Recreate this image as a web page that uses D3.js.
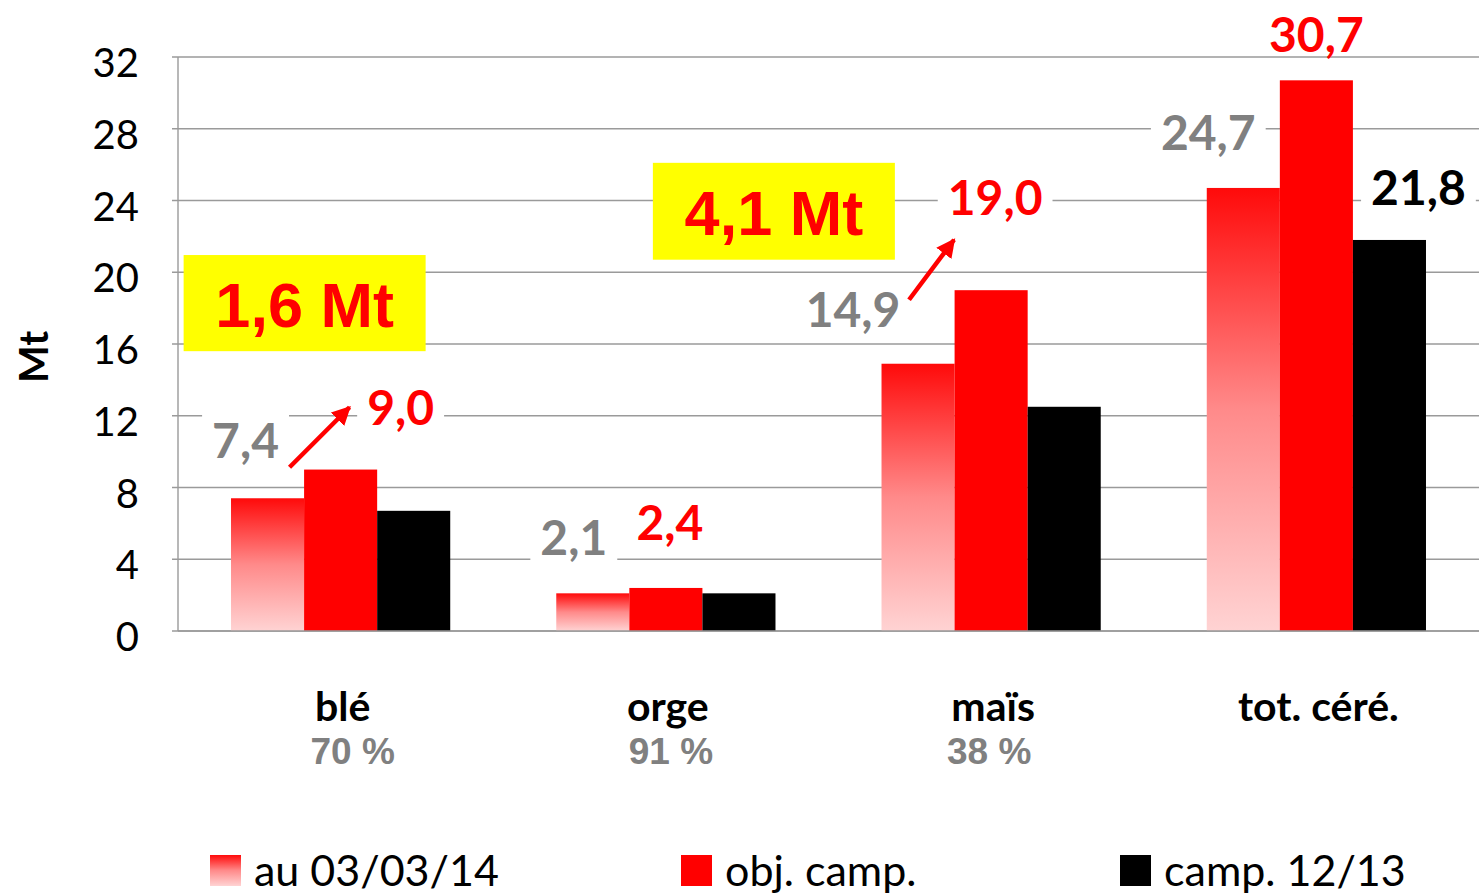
<!DOCTYPE html>
<html><head><meta charset="utf-8">
<script src="https://cdn.jsdelivr.net/npm/d3@7"></script>
<style>
html,body{margin:0;padding:0;background:#fff;}
svg{display:block;}
</style></head>
<body>
<svg id="chart" width="1479" height="894"></svg>
<script>
// ---- data ----
const categories = ["blé", "orge", "maïs", "tot. céré."];
const shares = ["70 %", "91 %", "38 %", ""];
const seriesNames = ["au 03/03/14", "obj. camp.", "camp. 12/13"];
const au030314 = [7.4, 2.1, 14.9, 24.7];
const objCamp = [9.0, 2.4, 19.0, 30.7];
const camp1213 = [6.7, 2.1, 12.5, 21.8];
const yTicks = [0, 4, 8, 12, 16, 20, 24, 28, 32];
const labelText = [["7,4","9,0",null],["2,1","2,4",null],["14,9","19,0",null],["24,7","30,7","21,8"]];
const annotations = [{cat:0, text:"1,6 Mt"}, {cat:1, text:"4,1 Mt"}];

// ---- layout / style ----
const W = 1479, H = 894;
const plot = {left:178, right:1479, top:57, bottom:631};
const svg = d3.select("#chart");
const FONT = "Lato, 'Open Sans', sans-serif";
const ARIAL = "'Liberation Sans', Arial, sans-serif";

const x0 = d3.scaleBand().domain(categories).range([plot.left, plot.right]).padding(0);
const gw = x0.bandwidth();
const x1 = d3.scaleBand().domain([0,1,2]).range([gw*0.163, gw*0.837]).padding(0);
const y = d3.scaleLinear().domain([0,32]).range([plot.bottom, plot.top]);

const series = [au030314, objCamp, camp1213];
const fills = ["url(#grad)", "#ff0000", "#000000"];
const labelColors = ["#808080", "#ff0000", "#000000"];

// label offsets relative to (bar centre, bar top): [dx, dy]
const labelOffsets = [
  [[-22,-40],[60,-45],null],
  [[-19,-38],[4,-48],null],
  [[-65,-37],[4,-75],null],
  [[-35,-38],[0,-28],[29,-35]]
];
const labelBox = [[true,true],[true,false],[true,true],[true,false,true]];
// arrows relative to series-0 bar (centre, top): [x1,y1,x2,y2]
const arrows = [{cat:0, p:[22,-31,82,-91]}, {cat:2, p:[-9,-64,36,-124]}];
// yellow annotation boxes: dx from band centre, value range
const annoPos = [{dx:-36, w:242, vTop:20.96, vBot:15.6}, {dx:108, w:242, vTop:26.1, vBot:20.7}];
const shareDx = [12, 5, -2, 0];

const defs = svg.append("defs");
function addGrad(id){
  const g = defs.append("linearGradient").attr("id",id).attr("x1",0).attr("y1",0).attr("x2",0).attr("y2",1);
  g.append("stop").attr("offset","0%").attr("stop-color","#ff0a0a");
  g.append("stop").attr("offset","50%").attr("stop-color","#ff8a8a");
  g.append("stop").attr("offset","100%").attr("stop-color","#ffd3d3");
}
addGrad("grad"); addGrad("gradL");
defs.append("marker").attr("id","arrow").attr("viewBox","0 0 10 10").attr("refX",9).attr("refY",5)
  .attr("markerWidth",4.2).attr("markerHeight",4.2).attr("markerUnits","strokeWidth").attr("orient","auto")
  .append("path").attr("d","M0,0 L10,5 L0,10 z").attr("fill","#ff0000");

// gridlines
svg.append("g").selectAll("line").data(yTicks).join("line")
  .attr("x1", plot.left-6).attr("x2", plot.right)
  .attr("y1", d=>y(d)).attr("y2", d=>y(d))
  .attr("stroke", "#9a9a9a").attr("stroke-width", 1.4);
// left axis line
svg.append("line").attr("x1",plot.left).attr("x2",plot.left).attr("y1",y(32)).attr("y2",y(0))
  .attr("stroke","#9a9a9a").attr("stroke-width",1.4);

// tick labels
svg.append("g").selectAll("text").data(yTicks).join("text")
  .attr("x", 139).attr("y", d=>y(d)+20)
  .attr("text-anchor","end").attr("font-family",FONT).attr("font-size",40).attr("fill","#000")
  .text(d=>d);

// y title
svg.append("text").attr("transform","translate(48,357) rotate(-90)")
  .attr("text-anchor","middle").attr("font-family",FONT).attr("font-weight",700).attr("font-size",40)
  .text("Mt");

// yellow annotation boxes
annotations.forEach((a,i)=>{
  const p = annoPos[i];
  const cx = x0(categories[a.cat]) + gw/2 + p.dx;
  const yt = y(p.vTop), yb = y(p.vBot);
  svg.append("rect").attr("x",cx-p.w/2).attr("y",yt).attr("width",p.w).attr("height",yb-yt).attr("fill","#ffff00");
  svg.append("text").attr("x",cx).attr("y",(yt+yb)/2+24).attr("text-anchor","middle")
    .attr("font-family",ARIAL).attr("font-weight",700).attr("font-size",63).attr("fill","#ff0000")
    .text(a.text);
});

// bars
const groups = svg.append("g").selectAll("g").data(categories).join("g")
  .attr("transform", d=>`translate(${x0(d)},0)`);
groups.selectAll("rect").data((d,i)=>series.map((s,k)=>({k, v:s[i]}))).join("rect")
  .attr("x", d=>x1(d.k)).attr("width", x1.bandwidth())
  .attr("y", d=>y(d.v)).attr("height", d=>y(0)-y(d.v))
  .attr("fill", d=>fills[d.k]);

// baseline
svg.append("line").attr("x1",plot.left).attr("x2",plot.right).attr("y1",y(0)).attr("y2",y(0))
  .attr("stroke","#9a9a9a").attr("stroke-width",1.6);

// value labels
const labG = svg.append("g");
categories.forEach((c,i)=>{
  labelText[i].forEach((t,k)=>{
    if(!t) return;
    const off = labelOffsets[i][k];
    const cx = x0(c) + x1(k) + x1.bandwidth()/2 + off[0];
    const by = y(series[k][i]) + off[1];
    const grp = labG.append("g");
    const rect = grp.append("rect").attr("fill","#fff");
    const txt = grp.append("text").attr("x",cx).attr("y",by).attr("text-anchor","middle")
      .attr("font-family",FONT).attr("font-weight",700).attr("font-size",48).attr("fill",labelColors[k])
      .text(t);
    if(labelBox[i][k]){
      const bb = txt.node().getBBox();
      rect.attr("x",bb.x-10).attr("y",bb.y-4).attr("width",bb.width+20).attr("height",bb.height+8);
    } else rect.remove();
  });
});

// arrows
arrows.forEach(a=>{
  const c = categories[a.cat];
  const bx = x0(c) + x1(0) + x1.bandwidth()/2, by = y(series[0][a.cat]);
  svg.append("line").attr("x1",bx+a.p[0]).attr("y1",by+a.p[1]).attr("x2",bx+a.p[2]).attr("y2",by+a.p[3])
    .attr("stroke","#ff0000").attr("stroke-width",4.5).attr("marker-end","url(#arrow)");
});

// category labels
svg.append("g").selectAll("text").data(categories).join("text")
  .attr("x", d=>x0(d)+gw/2+2).attr("y", 721).attr("text-anchor","middle")
  .attr("font-family",FONT).attr("font-weight",700).attr("font-size",41).attr("fill","#000")
  .text(d=>d);
svg.append("g").selectAll("text").data(categories).join("text")
  .attr("x", (d,i)=>x0(d)+gw/2+shareDx[i]).attr("y", 764).attr("text-anchor","middle")
  .attr("font-family",ARIAL).attr("font-weight",700).attr("font-size",37).attr("fill","#808080")
  .text((d,i)=>shares[i]);

// legend
const legX = [210, 681, 1120];
const legFill = ["url(#gradL)", "#ff0000", "#000"];
const leg = svg.append("g").selectAll("g").data(seriesNames).join("g")
  .attr("transform",(d,i)=>`translate(${legX[i]},855)`);
leg.append("rect").attr("width",31).attr("height",31).attr("fill",(d,i)=>legFill[i]);
leg.append("text").attr("x",44).attr("y",31).attr("font-family",FONT).attr("font-size",43).attr("fill","#000")
  .text(d=>d);
</script>
</body></html>
